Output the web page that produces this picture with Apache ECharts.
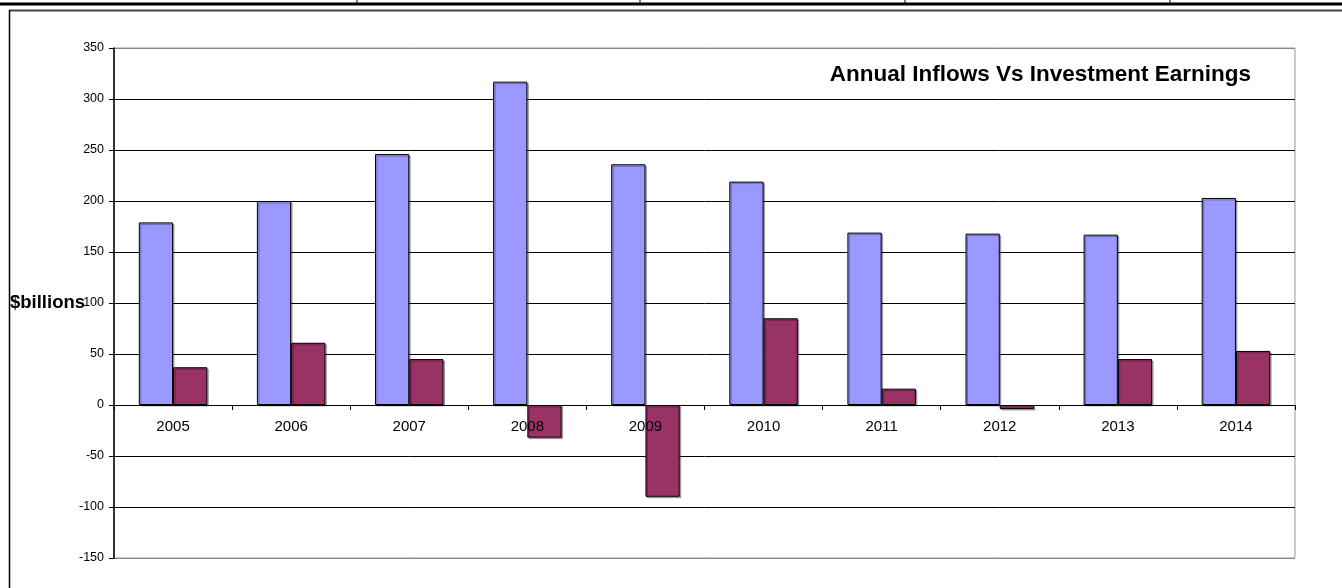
<!DOCTYPE html>
<html>
<head>
<meta charset="utf-8">
<script src="https://cdn.jsdelivr.net/npm/echarts@6/dist/echarts.min.js"></script>
<style>
html,body{margin:0;padding:0;background:#fff;}
#chart{width:1342px;height:588px;}
</style>
</head>
<body>
<div id="chart"></div>
<script>
const years = ['2005','2006','2007','2008','2009','2010','2011','2012','2013','2014'];
const inflows = [179, 200, 246, 317, 236, 219, 169, 168, 167, 203];
const earnings = [37, 61, 45, -32, -90, 85, 16, -4, 45, 53];
const titleText = 'Annual Inflows Vs Investment Earnings';
const yLabel = '$billions';

const chart = echarts.init(document.getElementById('chart'));
const splitColors = ['#888','#000','#000','#000','#000','#000','#000','#000','#000','#000','#888'];
chart.setOption({
  animation: false,
  backgroundColor: '#fff',
  title: {
    text: titleText,
    right: 86,
    top: 58,
    textStyle: { fontFamily: 'Liberation Sans, Arial', fontWeight: 'bold', fontSize: 22.5, color: '#000' }
  },
  grid: { left: 114, right: 47, top: 48, bottom: 30, show: true, borderColor: '#999', borderWidth: 1, backgroundColor: 'transparent' },
  xAxis: {
    type: 'category',
    data: years,
    position: 'bottom',
    offset: -153,
    z: 10,
    axisLine: { onZero: false, lineStyle: { color: '#000', width: 1 } },
    axisTick: { show: true, interval: 0, length: 5, lineStyle: { color: '#000' } },
    axisLabel: { margin: 14, color: '#000', fontFamily: 'Liberation Sans, Arial', fontSize: 15 },
    splitLine: { show: false }
  },
  yAxis: {
    type: 'value',
    min: -150, max: 350, interval: 50,
    axisLine: { show: true, lineStyle: { color: '#000', width: 1.5 } },
    axisTick: { show: true, length: 5, lineStyle: { color: '#000' } },
    axisLabel: { margin: 10, color: '#000', fontFamily: 'Liberation Sans, Arial', fontSize: 12.5 },
    splitLine: { show: true, lineStyle: { color: splitColors, width: 1 } }
  },
  series: [
    {
      name: 'Inflows', type: 'bar', data: inflows,
      barGap: '0%', barCategoryGap: '42%',
      itemStyle: { color: '#9999FF', borderColor: '#000', borderWidth: 1,
        shadowColor: 'rgba(0,0,0,0.3)', shadowOffsetX: 1.5, shadowOffsetY: 1.5, shadowBlur: 0 }
    },
    {
      name: 'Earnings', type: 'bar', data: earnings,
      barGap: '0%', barCategoryGap: '42%',
      itemStyle: { color: '#993366', borderColor: '#000', borderWidth: 1,
        shadowColor: 'rgba(0,0,0,0.3)', shadowOffsetX: 1.5, shadowOffsetY: 1.5, shadowBlur: 0 }
    }
  ],
  graphic: [
    { type: 'line', shape: { x1: 0, y1: 4, x2: 1342, y2: 4 }, style: { stroke: '#000', lineWidth: 3 } },
    { type: 'line', shape: { x1: 357, y1: 0, x2: 357, y2: 4 }, style: { stroke: '#000', lineWidth: 1 } },
    { type: 'line', shape: { x1: 640, y1: 0, x2: 640, y2: 4 }, style: { stroke: '#000', lineWidth: 1 } },
    { type: 'line', shape: { x1: 905, y1: 0, x2: 905, y2: 4 }, style: { stroke: '#000', lineWidth: 1 } },
    { type: 'line', shape: { x1: 1170, y1: 0, x2: 1170, y2: 4 }, style: { stroke: '#000', lineWidth: 1 } },
    { type: 'line', shape: { x1: 9, y1: 10.5, x2: 1342, y2: 10.5 }, style: { stroke: '#444', lineWidth: 2 } },
    { type: 'line', shape: { x1: 9.5, y1: 10, x2: 9.5, y2: 588 }, style: { stroke: '#000', lineWidth: 1.5 } },
    { type: 'text', left: 10, top: 293, z: 20, style: { text: yLabel, fill: '#000', font: 'bold 18.5px "Liberation Sans", Arial' } }
  ]
});
</script>
</body>
</html>
